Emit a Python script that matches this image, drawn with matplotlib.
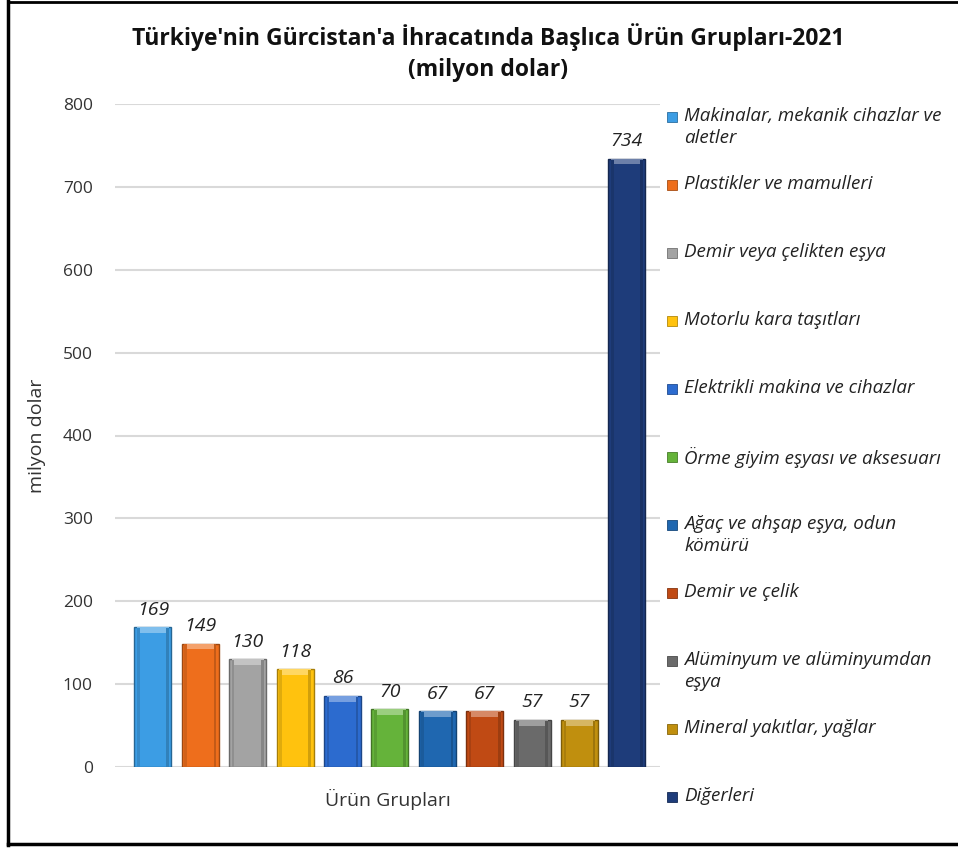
import matplotlib
matplotlib.use("Agg")
import matplotlib.pyplot as plt
from matplotlib.patches import Rectangle
from matplotlib.lines import Line2D
import matplotlib.colors as mcolors
import numpy as np

categories = [
    "Makinalar, mekanik cihazlar ve\naletler",
    "Plastikler ve mamulleri",
    "Demir veya çelikten eşya",
    "Motorlu kara taşıtları",
    "Elektrikli makina ve cihazlar",
    "Örme giyim eşyası ve aksesuarı",
    "Ağaç ve ahşap eşya, odun\nkömürü",
    "Demir ve çelik",
    "Alüminyum ve alüminyumdan\neşya",
    "Mineral yakıtlar, yağlar",
    "Diğerleri",
]
values = [169, 149, 130, 118, 86, 70, 67, 67, 57, 57, 734]
colors = ["#3C9DE4", "#EE6E1C", "#A3A3A3", "#FFC20E", "#2C6BCF", "#65B33A",
          "#1F67B0", "#C04A14", "#6A6A6A", "#C08F0E", "#1E3C7A"]
yticks = [0, 100, 200, 300, 400, 500, 600, 700, 800]

plt.rcParams['font.family'] = ['Open Sans', 'DejaVu Sans']

fig = plt.figure(figsize=(9.58, 8.48), dpi=100)
W, H = 958, 848
ax = fig.add_axes([115 / W, 1 - 767 / H, (660 - 115) / W, (767 - 104) / H])

x = np.arange(len(values))

def lighten(c, f):
    r, g, b = mcolors.to_rgb(c)
    return (r + (1 - r) * f, g + (1 - g) * f, b + (1 - b) * f)

def darken(c, f):
    r, g, b = mcolors.to_rgb(c)
    return (r * (1 - f), g * (1 - f), b * (1 - f))

bw = 0.78
for xi, v, c in zip(x, values, colors):
    ax.bar(xi, v, width=bw, color=c, edgecolor=darken(c, 0.35), linewidth=1.0, zorder=3)
    # top bevel highlight
    ax.bar(xi, 7, bottom=v - 7, width=bw * 0.86, color=lighten(c, 0.35), linewidth=0, zorder=4)
    # side shading
    ax.bar(xi - bw * 0.43, v - 1, width=bw * 0.07, color=darken(c, 0.12), linewidth=0, zorder=4, align='edge')
    ax.bar(xi + bw * 0.43, v - 1, width=-bw * 0.07, color=darken(c, 0.18), linewidth=0, zorder=4, align='edge')
    ax.text(xi, v + 10, f"{v}", ha='center', va='bottom', fontsize=14, style='italic', color='#222222', zorder=5)

ax.set_xlim(-0.8, 10.7)
ax.set_ylim(0, 800)
ax.set_yticks(yticks)
ax.set_yticklabels([str(t) for t in yticks], fontsize=12.5, color='#333333')
ax.tick_params(axis='y', length=0, pad=16)
ax.set_xticks([])
for s in ax.spines.values():
    s.set_visible(False)
ax.grid(axis='y', color='#D9D9D9', linewidth=1.5, zorder=0)
ax.set_axisbelow(True)

ax.set_ylabel("milyon dolar", fontsize=14, color='#333333', labelpad=12)
ax.set_xlabel("Ürün Grupları", fontsize=14, color='#333333', labelpad=16)

fig.text(488 / W, 1 - 37 / H, "Türkiye'nin Gürcistan'a İhracatında Başlıca Ürün Grupları-2021",
         ha='center', va='center', fontsize=16.5, fontweight='bold', color='#111111')
fig.text(488 / W, 1 - 70 / H, "(milyon dolar)", ha='center', va='center',
         fontsize=16.5, fontweight='bold', color='#111111')

# legend
for i, (lab, c) in enumerate(zip(categories, colors)):
    yc = 117 + i * 68
    fig.patches.append(Rectangle((667 / W, 1 - (yc + 5) / H), 10 / W, 10 / H,
                                 transform=fig.transFigure, facecolor=c,
                                 edgecolor=darken(c, 0.3), linewidth=0.6))
    fig.text(684 / W, 1 - (yc - 10) / H, lab, ha='left', va='top', fontsize=13.5,
             style='italic', color='#222222', linespacing=1.3)

# border
fig.add_artist(Line2D([8 / W, 8 / W], [1 - 845 / H, 1 - 1 / H], transform=fig.transFigure, color='black', lw=2.5))
fig.add_artist(Line2D([8 / W, 1], [1 - 1.5 / H, 1 - 1.5 / H], transform=fig.transFigure, color='black', lw=2))
fig.add_artist(Line2D([8 / W, 1], [1 - 844 / H, 1 - 844 / H], transform=fig.transFigure, color='black', lw=2.5))

fig.savefig("out.png", dpi=100, facecolor='white')
